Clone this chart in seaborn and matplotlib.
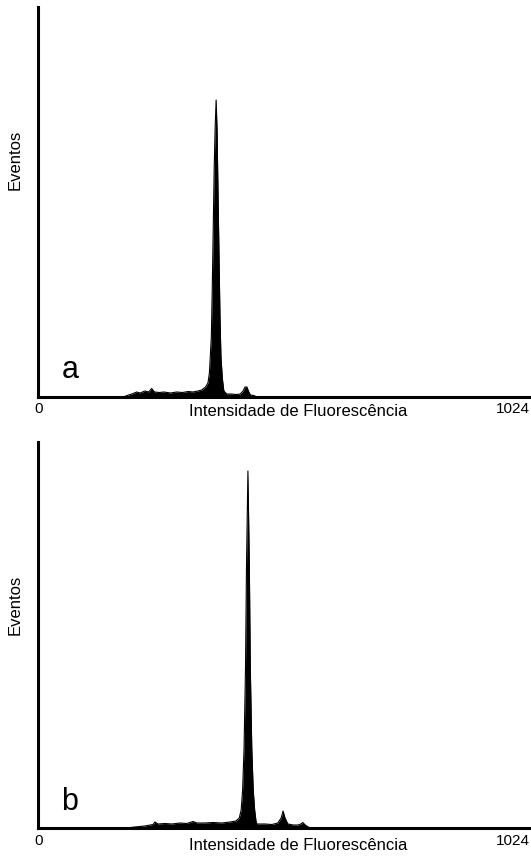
import numpy as np
import pandas as pd
import seaborn as sns
import matplotlib.pyplot as plt

sns.set_theme(style="white")
plt.rcParams['font.family'] = ['Liberation Sans', 'DejaVu Sans']

# ---- data (channel 0-1024, events in arbitrary units) ----
channels_a = [177, 185, 195, 205, 212, 222, 230, 236, 242, 252, 262, 275, 288, 300,
              312, 322, 332, 340, 348, 353, 356, 360, 362, 364, 366, 368, 370,
              372, 374, 376, 378, 380, 383, 386, 392, 402, 412, 420, 426, 430,
              434, 437, 441, 448, 455]
events_a = [0, 1.5, 3, 5, 4, 6, 5, 8.5, 5, 4.5, 5, 4, 5, 4.5,
            5.5, 5, 6, 7, 10, 14, 24, 60, 110, 170, 230, 270, 297,
            265, 200, 140, 80, 40, 18, 6, 3, 3, 2.5, 3, 6, 10,
            10, 6, 2, 1.5, 0]

channels_b = [185, 201, 222, 239, 243, 249, 264, 278, 295, 309, 322, 330, 347, 363,
              382, 399, 411, 418, 422, 425, 428, 431, 433, 436, 439, 441, 444,
              447, 450, 453, 455, 471, 486, 498, 505, 509, 513, 519, 530, 540,
              546, 550, 555, 561, 567]
events_b = [0, 1, 2, 3.5, 6, 4, 4.5, 4, 5, 4.5, 6.5, 5, 5, 5.5,
            5, 6, 7, 10, 18, 38, 80, 160, 260, 357, 260, 160, 80,
            38, 18, 6, 4, 4, 3.5, 5, 10, 17, 10, 4, 3, 3,
            4, 5.5, 3, 1, 0]

panel_letters = ["a", "b"]
x_label = "Intensidade de Fluorescência"
y_label = "Eventos"
x_tick_labels = ["0", "1024"]

W, H = 531, 856
fig = plt.figure(figsize=(W / 100, H / 100), dpi=100)


def box(l, t, r, b):
    return [l / W, 1 - b / H, (r - l) / W, (b - t) / H]


def fx(px):
    return px / W


def fy(py):
    return 1 - py / H


panels = [
    dict(ch=channels_a, ev=events_a, rect=(38, 7, 531, 397), ytop=390,
         letter=panel_letters[0], letter_xy=(70, 378), ylab_y=160, xlab_y=412, tick_y=409),
    dict(ch=channels_b, ev=events_b, rect=(38, 442, 531, 828), ytop=386,
         letter=panel_letters[1], letter_xy=(70, 810), ylab_y=605, xlab_y=845, tick_y=841),
]

for p in panels:
    ax = fig.add_axes(box(*p["rect"]))
    df = pd.DataFrame({"canal": p["ch"], "eventos": p["ev"]})
    sns.lineplot(data=df, x="canal", y="eventos", ax=ax, color="black", lw=0.8)
    ax.fill_between(df["canal"], df["eventos"], color="black", lw=0)
    ax.set_xlim(0, 1024)
    ax.set_ylim(0, p["ytop"])
    ax.set_xticks([])
    ax.set_yticks([])
    ax.set_xlabel("")
    ax.set_ylabel("")
    for s in ["top", "right"]:
        ax.spines[s].set_visible(False)
    for s in ["left", "bottom"]:
        ax.spines[s].set_visible(True)
        ax.spines[s].set_color("black")
        ax.spines[s].set_linewidth(2.2)
        ax.spines[s].set_capstyle("projecting")
    ax.set_facecolor("white")

    fig.text(fx(p["letter_xy"][0]), fy(p["letter_xy"][1]), p["letter"], fontsize=22,
             ha="center", va="baseline", color="black")
    fig.text(fx(15), fy(p["ylab_y"]), y_label, rotation=90, fontsize=12,
             ha="center", va="center", color="black")
    fig.text(fx(298), fy(p["xlab_y"]), x_label, fontsize=12,
             ha="center", va="center", color="black")
    fig.text(fx(39), fy(p["tick_y"]), x_tick_labels[0], fontsize=11,
             ha="center", va="center", color="black")
    fig.text(fx(530), fy(p["tick_y"]), x_tick_labels[1], fontsize=11,
             ha="right", va="center", color="black")

fig.savefig("out.png", dpi=100, facecolor="white")
